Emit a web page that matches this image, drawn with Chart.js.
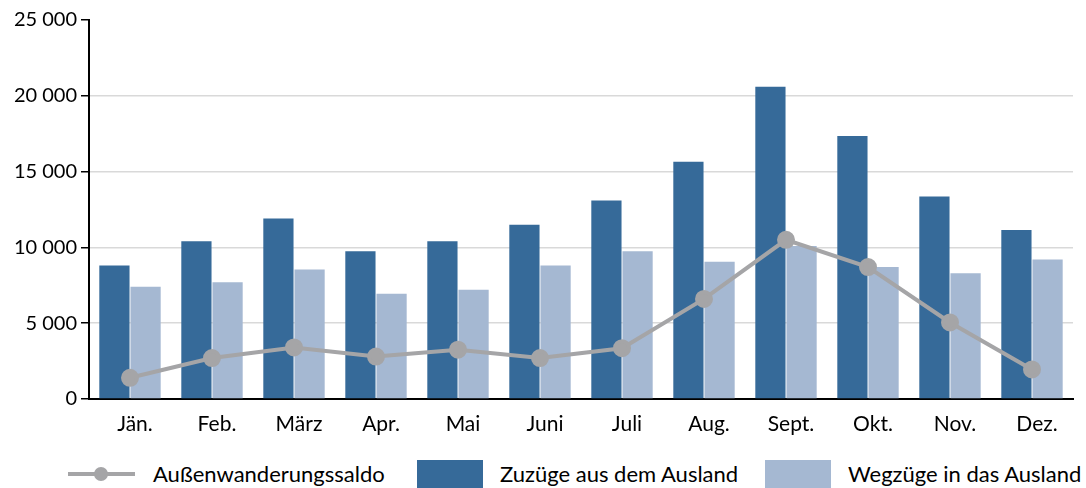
<!DOCTYPE html>
<html>
<head>
<meta charset="utf-8">
<script src="https://cdn.jsdelivr.net/npm/chart.js@4.4.0/dist/chart.umd.min.js"></script>
<style>
  body { margin: 0; background: #fff; font-family: Lato, sans-serif; }
  .wrap { position: relative; width: 1086px; height: 488px; }
  canvas { position: absolute; left: 0; top: 0; }
  .legend { position: absolute; top: 460px; left: 0; width: 1086px; height: 28px; font-size: 22px; line-height: 28px; color: #000; }
  .legend span { position: absolute; top: 0; white-space: nowrap; }
  .legend span.lineicon { left: 68px; top: 12px; width: 67px; height: 4px; background: #a5a5a7; }
  .lineicon::after { content: ''; position: absolute; left: 26px; top: -5px; width: 14px; height: 14px; border-radius: 50%; background: #a5a5a7; }
  .box { width: 66px; height: 28px; }
</style>
</head>
<body>
<div class="wrap">
  <canvas id="myChart" width="1086" height="440"></canvas>
  <div class="legend">
    <span class="lineicon"></span>
    <span style="left:153px;">Außenwanderungssaldo</span>
    <span class="box" style="left:417px; background:#366a99;"></span>
    <span style="left:500px;">Zuzüge aus dem Ausland</span>
    <span class="box" style="left:765px; background:#a5b8d2;"></span>
    <span style="left:848px;">Wegzüge in das Ausland</span>
  </div>
</div>
<script>
const months = ['Jän.', 'Feb.', 'März', 'Apr.', 'Mai', 'Juni', 'Juli', 'Aug.', 'Sept.', 'Okt.', 'Nov.', 'Dez.'];
const zuzuege = [8800, 10400, 11900, 9750, 10400, 11500, 13100, 15650, 20600, 17350, 13350, 11150];
const wegzuege = [7400, 7700, 8550, 6950, 7200, 8800, 9750, 9050, 10100, 8700, 8300, 9200];
const saldo = [1400, 2700, 3400, 2800, 3250, 2700, 3350, 6600, 10500, 8700, 5050, 1950];
const yTicks = [0, 5000, 10000, 15000, 20000, 25000];

const ctx = document.getElementById('myChart').getContext('2d');
const myChart = new Chart(ctx, {
  data: {
    labels: months,
    datasets: [
      {
        type: 'line',
        label: 'Außenwanderungssaldo',
        data: saldo,
        borderColor: '#a5a5a7',
        backgroundColor: '#a5a5a7',
        borderWidth: 4,
        pointRadius: 7,
        pointHoverRadius: 7,
        tension: 0,
        order: 0
      },
      {
        type: 'bar',
        label: 'Zuzüge aus dem Ausland',
        data: zuzuege,
        backgroundColor: '#366a99',
        categoryPercentage: 0.76,
        barPercentage: 0.97,
        order: 1
      },
      {
        type: 'bar',
        label: 'Wegzüge in das Ausland',
        data: wegzuege,
        backgroundColor: '#a5b8d2',
        categoryPercentage: 0.76,
        barPercentage: 0.97,
        order: 1
      }
    ]
  },
  options: {
    responsive: false,
    animation: false,
    layout: { padding: { top: 20, right: 13, left: 0, bottom: 0 } },
    plugins: {
      legend: { display: false },
      tooltip: { enabled: false }
    },
    scales: {
      x: {
        grid: { display: false },
        border: { display: true, color: '#000', width: 2 },
        ticks: { color: '#000', font: { family: 'Lato', size: 21 }, padding: 5, labelOffset: 5, maxRotation: 0 },
        afterFit: (scale) => { scale.height = 41; }
      },
      y: {
        min: 0,
        max: 25000,
        afterBuildTicks: (scale) => { scale.ticks = yTicks.map(v => ({ value: v })); },
        grid: {
          color: (c) => (c.tick && (c.tick.value === 0 || c.tick.value === 25000)) ? 'rgba(0,0,0,0)' : '#d9d9d9',
          tickColor: '#000',
          tickLength: 8,
          lineWidth: 1.5
        },
        border: { display: true, color: '#000', width: 2 },
        ticks: {
          color: '#000',
          font: { family: 'Lato', size: 20 },
          padding: 4,
          callback: (v) => v.toLocaleString('de-AT').replace(/\./g, ' ')
        },
        afterFit: (scale) => { scale.width = 89; }
      }
    }
  }
});
</script>
</body>
</html>
